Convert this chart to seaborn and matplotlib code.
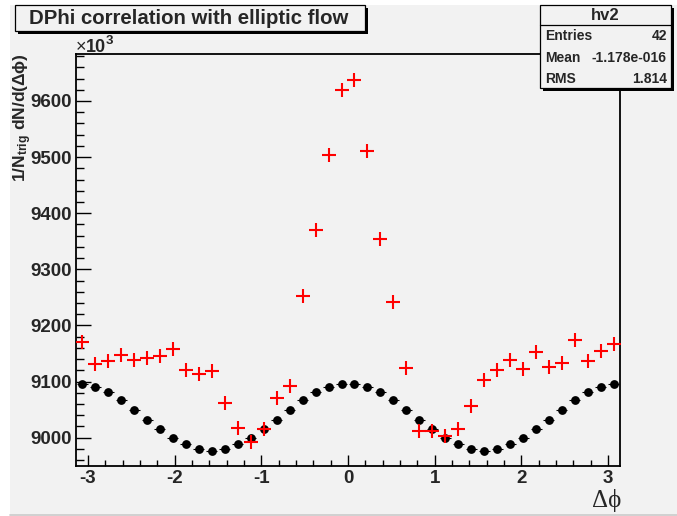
import numpy as np
import pandas as pd
import matplotlib
matplotlib.use("Agg")
import matplotlib.pyplot as plt
import seaborn as sns
from matplotlib.patches import Rectangle
from matplotlib.lines import Line2D
from matplotlib.ticker import MultipleLocator, FixedLocator

# ---- histogram binning: 42 bins over [-pi, pi] ----
n_bins = 42
bin_edges = np.linspace(-np.pi, np.pi, n_bins + 1)
dphi = 0.5 * (bin_edges[:-1] + bin_edges[1:])
half_width = 0.5 * (bin_edges[1] - bin_edges[0])

# elliptic-flow background (hv2), in units of 10^3
flow = [9096, 9090, 9081, 9067, 9050, 9032, 9015, 9000, 8988, 8980, 8977,
        8980, 8988, 9000, 9015, 9032, 9050, 9067, 9081, 9090, 9096, 9096,
        9090, 9081, 9067, 9050, 9032, 9015, 9000, 8988, 8980, 8977,
        8980, 8988, 9000, 9015, 9032, 9050, 9067, 9081, 9090, 9096]

# measured DPhi correlation, in units of 10^3
corr = [9171, 9131, 9137, 9147, 9139, 9142, 9146, 9158, 9120, 9113, 9119,
        9062, 9017, 8992, 9016, 9071, 9093, 9253, 9370, 9503, 9619, 9638,
        9510, 9354, 9242, 9124, 9012, 9012, 9003, 9016, 9057, 9102, 9120,
        9139, 9123, 9152, 9126, 9133, 9174, 9136, 9154, 9167]

x_ticks = [-3, -2, -1, 0, 1, 2, 3]
x_tick_labels = ["-3", "-2", "-1", "0", "1", "2", "3"]
y_ticks = [9000, 9100, 9200, 9300, 9400, 9500, 9600]
y_tick_labels = ["9000", "9100", "9200", "9300", "9400", "9500", "9600"]

stats_rows = [("Entries", "42"), ("Mean", "-1.178e-016"), ("RMS", "1.814")]

df = pd.DataFrame({"dphi": dphi, "flow": flow, "corr": corr})

sns.set_style("ticks")
plt.rcParams["font.family"] = ["Liberation Sans", "DejaVu Sans"]
plt.rcParams["mathtext.fontset"] = "custom"
plt.rcParams["mathtext.rm"] = "Liberation Sans"
plt.rcParams["mathtext.bf"] = "Liberation Sans:bold"
plt.rcParams["mathtext.it"] = "Liberation Sans:italic"

W, H = 677, 516
BG = "#f2f2f2"
fig = plt.figure(figsize=(W / 100, H / 100), dpi=100, facecolor="white")


def fx(px):
    return px / W


def fy(py):
    return 1 - py / H


# canvas pad
fig.add_artist(Rectangle((fx(10), fy(514)), fx(W) - fx(10), fy(5) - fy(514),
                         transform=fig.transFigure, facecolor=BG,
                         edgecolor="none", zorder=-10))
fig.add_artist(Line2D([fx(10), 1], [fy(514.5), fy(514.5)],
                      transform=fig.transFigure, color="#c8c8c8", lw=1.2,
                      zorder=-9))

left, right, top, bottom = 75.7, 620.3, 54.0, 465.5
ax = fig.add_axes([fx(left), fy(bottom), fx(right) - fx(left), fy(top) - fy(bottom)])
ax.set_facecolor(BG)

# black: flow curve with bin-width error bars
ax.errorbar(df["dphi"], df["flow"], xerr=half_width * 0.85, fmt="none",
            ecolor="black", elinewidth=0.8, capsize=0, zorder=2)
sns.scatterplot(data=df, x="dphi", y="flow", ax=ax, color="black", s=40,
                linewidth=0, edgecolor="black", zorder=3, legend=False)

# red: correlation
sns.scatterplot(data=df, x="dphi", y="corr", ax=ax, color="red", marker="+",
                s=90, linewidth=1.5, zorder=4, legend=False)

ax.set_xlim(-np.pi, np.pi)
ax.set_ylim(8950.5, 9683.7)
ax.set_xlabel("")
ax.set_ylabel("")

ax.xaxis.set_major_locator(FixedLocator(x_ticks))
ax.set_xticklabels(x_tick_labels)
ax.xaxis.set_minor_locator(MultipleLocator(0.2))
ax.yaxis.set_major_locator(FixedLocator(y_ticks))
ax.set_yticklabels(y_tick_labels)
ax.yaxis.set_minor_locator(MultipleLocator(20))

ax.tick_params(axis="both", which="both", direction="in", color="black",
               top=False, right=False, width=1.0)
ax.tick_params(axis="x", which="major", length=8, pad=3.5)
ax.tick_params(axis="x", which="minor", length=4.3)
ax.tick_params(axis="y", which="major", length=10.8, pad=2.5)
ax.tick_params(axis="y", which="minor", length=5.4)
for lab in ax.get_xticklabels() + ax.get_yticklabels():
    lab.set_fontsize(13.5)
    lab.set_fontweight("bold")

for sp in ax.spines.values():
    sp.set_visible(True)
    sp.set_linewidth(1.3)
    sp.set_color("black")

# exponent marker above the y axis
fig.text(fx(76), fy(52), "×", fontsize=13, ha="left", va="baseline")
fig.text(fx(86), fy(52), "10", fontsize=13, fontweight="bold", ha="left",
         va="baseline")
fig.text(fx(106), fy(44), "3", fontsize=9.5, fontweight="bold", ha="left",
         va="baseline")

# axis titles
fig.text(fx(22.5), fy(53), r"1/N$_{\mathbf{trig}}$ dN/d(Δϕ)", rotation=90,
         ha="center", va="top", fontsize=12.5, fontweight="bold")
fig.text(fx(621), fy(501), "Δϕ", ha="right", va="center", fontsize=18,
         family=["Liberation Serif", "DejaVu Serif"])

# title box
fig.add_artist(Rectangle((fx(17.5), fy(33.5)), fx(365) - fx(15), fy(5) - fy(31),
                         transform=fig.transFigure, facecolor="black",
                         edgecolor="none", zorder=5))
fig.add_artist(Rectangle((fx(15), fy(31)), fx(365) - fx(15), fy(5) - fy(31),
                         transform=fig.transFigure, facecolor=BG,
                         edgecolor="black", lw=0.9, zorder=6))
fig.text(fx(189), fy(18.5), "DPhi correlation with elliptic flow",
         ha="center", va="center", fontsize=14.7, fontweight="bold", zorder=7)

# statistics box
sb_l, sb_r, sb_t, sb_b = 540, 671, 5, 88
fig.add_artist(Rectangle((fx(sb_l + 3), fy(sb_b + 3)), fx(sb_r) - fx(sb_l),
                         fy(sb_t) - fy(sb_b), transform=fig.transFigure,
                         facecolor="black", edgecolor="none", zorder=5))
fig.add_artist(Rectangle((fx(sb_l), fy(sb_b)), fx(sb_r) - fx(sb_l),
                         fy(sb_t) - fy(sb_b), transform=fig.transFigure,
                         facecolor=BG, edgecolor="black", lw=0.9, zorder=6))
fig.add_artist(Line2D([fx(sb_l), fx(sb_r)], [fy(25), fy(25)],
                      transform=fig.transFigure, color="black", lw=0.9,
                      zorder=7))
fig.text(fx((sb_l + sb_r) / 2), fy(16), "hv2", ha="center", va="center",
         fontsize=12, fontweight="bold", zorder=8)
for (name, val), yy in zip(stats_rows, [36, 58, 79]):
    fig.text(fx(sb_l + 5), fy(yy), name, ha="left", va="center", fontsize=10,
             fontweight="bold", zorder=8)
    fig.text(fx(sb_r - 4), fy(yy), val, ha="right", va="center", fontsize=10,
             fontweight="bold", zorder=8)

fig.savefig("out.png", dpi=100, facecolor="white")
